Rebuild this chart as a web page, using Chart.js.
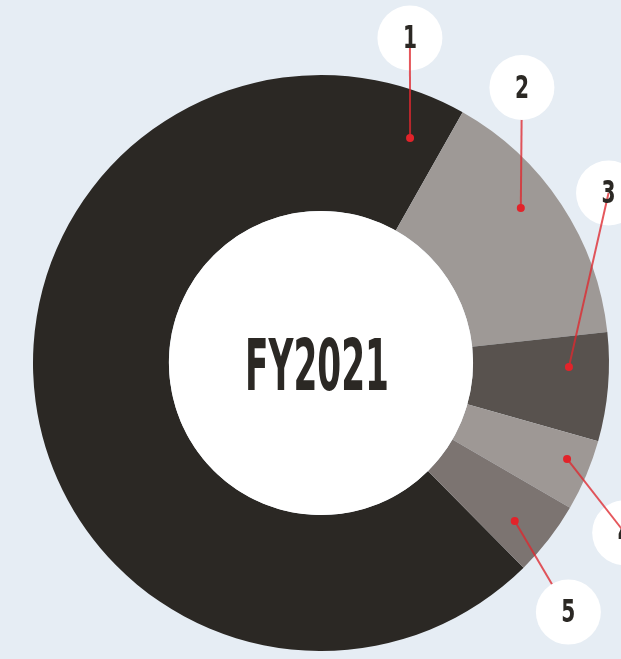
<!DOCTYPE html>
<html>
<head>
<meta charset="utf-8">
<script src="https://cdn.jsdelivr.net/npm/chart.js@4.4.0/dist/chart.umd.min.js"></script>
<style>
  html, body { margin: 0; padding: 0; background: #e6edf4; }
  #wrap { width: 621px; height: 659px; position: relative; }
</style>
</head>
<body>
<div id="wrap"><canvas id="c" width="621" height="659"></canvas></div>
<script>
// ---- data ----
const categories = ['1', '2', '3', '4', '5'];
const shares = [70.6, 15.1, 6.1, 4.0, 4.2];
const segmentColors = ['#2b2824', '#9e9996', '#58524e', '#9e9895', '#7c7471'];
const centerTitle = 'FY2021';

// callout geometry (angle deg clockwise from top, radius as fraction of outer radius)
const callouts = [
  { dotA: 21.6,  dotR: 0.84,  boxA: 15.3,  boxR: 1.17,  over: true  },
  { dotA: 52.2,  dotR: 0.878, boxA: 36.1,  boxR: 1.184, over: false },
  { dotA: 90.9,  dotR: 0.861, boxA: 59.4,  boxR: 1.16,  over: true  },
  { dotA: 111.3, dotR: 0.917, boxA: 119.2, boxR: 1.208, over: true  },
  { dotA: 129.2, dotR: 0.868, boxA: 135.2, boxR: 1.219, over: false }
];

const FONT = '"Liberation Sans Narrow", "DejaVu Sans Condensed", sans-serif';

function polar(cx, cy, aDeg, r) {
  const a = aDeg * Math.PI / 180;
  return { x: cx + Math.sin(a) * r, y: cy - Math.cos(a) * r };
}

const bgPlugin = {
  id: 'bg',
  beforeDraw(chart) {
    const ctx = chart.ctx;
    ctx.save();
    ctx.fillStyle = '#e6edf4';
    ctx.fillRect(0, 0, chart.width, chart.height);
    ctx.restore();
  }
};

const decoPlugin = {
  id: 'deco',
  afterDraw(chart) {
    const ctx = chart.ctx;
    const arc = chart.getDatasetMeta(0).data[0];
    const cx = arc.x, cy = arc.y, R = arc.outerRadius, r0 = arc.innerRadius;

    // white hole
    ctx.save();
    ctx.fillStyle = '#ffffff';
    ctx.beginPath();
    ctx.arc(cx, cy, r0, 0, Math.PI * 2);
    ctx.fill();

    // center title (condensed)
    ctx.fillStyle = '#2b2824';
    ctx.font = 'bold 72px ' + FONT;
    ctx.textAlign = 'center';
    ctx.textBaseline = 'alphabetic';
    ctx.save();
    ctx.translate(cx - 4, cy + 27);
    ctx.scale(0.53, 1);
    ctx.fillText(centerTitle, 0, 0);
    ctx.restore();

    const pts = callouts.map(c => ({
      dot: polar(cx, cy, c.dotA, R * c.dotR),
      box: polar(cx, cy, c.boxA, R * c.boxR),
      over: c.over
    }));

    const drawLine = p => {
      ctx.strokeStyle = 'rgba(222,40,46,0.78)';
      ctx.lineWidth = 2;
      ctx.beginPath();
      ctx.moveTo(p.dot.x, p.dot.y);
      ctx.lineTo(p.box.x, p.box.y);
      ctx.stroke();
    };

    pts.forEach(p => { if (!p.over) drawLine(p); });
    pts.forEach(p => {
      ctx.fillStyle = '#ffffff';
      ctx.beginPath();
      ctx.arc(p.box.x, p.box.y, 32.5, 0, Math.PI * 2);
      ctx.fill();
    });
    pts.forEach(p => { if (p.over) drawLine(p); });
    pts.forEach(p => {
      ctx.fillStyle = '#e2232a';
      ctx.beginPath();
      ctx.arc(p.dot.x, p.dot.y, 4, 0, Math.PI * 2);
      ctx.fill();
    });
    ctx.fillStyle = '#2b2824';
    ctx.font = 'bold 32px ' + FONT;
    ctx.textAlign = 'center';
    ctx.textBaseline = 'middle';
    pts.forEach((p, i) => {
      ctx.save();
      ctx.translate(p.box.x, p.box.y + 2);
      ctx.scale(0.7, 1);
      ctx.fillText(categories[i], 0, 0);
      ctx.restore();
    });
    ctx.restore();
  }
};

new Chart(document.getElementById('c'), {
  type: 'doughnut',
  data: {
    labels: categories,
    datasets: [{
      data: shares,
      backgroundColor: segmentColors,
      borderWidth: 0,
      hoverOffset: 0
    }]
  },
  options: {
    responsive: false,
    animation: false,
    cutout: '52.8%',
    rotation: 135.3,
    layout: { padding: { left: 33, right: 12, top: 75, bottom: 8 } },
    plugins: { legend: { display: false }, tooltip: { enabled: false } }
  },
  plugins: [bgPlugin, decoPlugin]
});
</script>
</body>
</html>
